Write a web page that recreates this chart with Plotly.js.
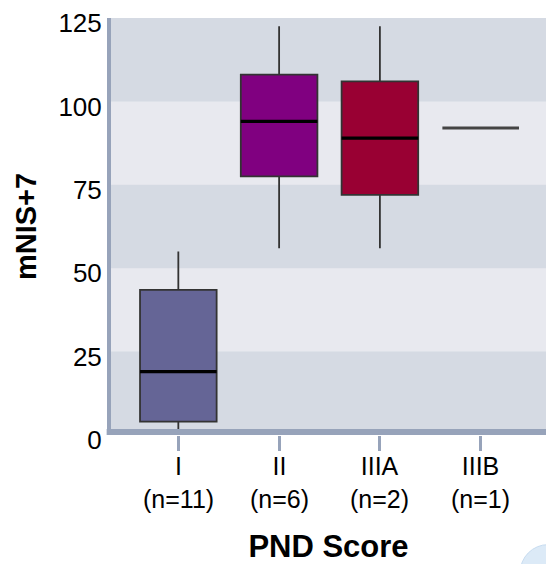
<!DOCTYPE html>
<html>
<head>
<meta charset="utf-8">
<script src="https://cdn.plot.ly/plotly-3.0.1.min.js"></script>
<style>html,body{margin:0;padding:0;background:#fff;}#chart{width:546px;height:564px;}</style>
</head>
<body>
<div id="chart"></div>
<script>
// Categories and labels
const categories = ['I', 'II', 'IIIA', 'IIIB'];
const sampleSizes = ['(n=11)', '(n=6)', '(n=2)', '(n=1)'];

// Box statistics (mNIS+7)
const lowerWhisker = [0, 56, 56, 92];
const q1Values = [4, 77.5, 72, 92];
const medianValues = [19, 94, 89, 92];
const q3Values = [43.5, 108, 106, 92];
const upperWhisker = [55, 122.5, 122.5, 92];
const boxColors = ['#656596', '#800080', '#990033', '#555555'];

const yTicks = [0, 25, 50, 75, 100, 125];

const traces = [];
categories.forEach((c, i) => {
  traces.push({
    type: 'box',
    x: [c],
    q1: [q1Values[i]],
    median: [medianValues[i]],
    q3: [q3Values[i]],
    lowerfence: [lowerWhisker[i]],
    upperfence: [upperWhisker[i]],
    fillcolor: boxColors[i],
    line: {color: i === 3 ? '#444444' : '#333333', width: i === 3 ? 3 : 1.8},
    whiskerwidth: 0,
    width: 0.76,
    boxpoints: false,
    hoverinfo: 'skip',
    showlegend: false
  });
});
// Thick black median lines
traces.push({
  type: 'box',
  x: categories.slice(0, 3),
  q1: medianValues.slice(0, 3),
  median: medianValues.slice(0, 3),
  q3: medianValues.slice(0, 3),
  lowerfence: medianValues.slice(0, 3),
  upperfence: medianValues.slice(0, 3),
  fillcolor: 'rgba(0,0,0,0)',
  line: {color: '#000000', width: 3.2},
  whiskerwidth: 0,
  width: 0.76,
  boxpoints: false,
  hoverinfo: 'skip',
  showlegend: false
});

// Alternating background bands
const shapes = [];
for (let k = 0; k < yTicks.length - 1; k++) {
  if (k % 2 === 1) {
    shapes.push({type: 'rect', xref: 'paper', yref: 'y', x0: 0, x1: 1, y0: yTicks[k], y1: yTicks[k + 1],
      fillcolor: '#e8e9ef', line: {width: 0}, layer: 'below'});
  }
}
// Bottom axis bar drawn just inside the plot edge
shapes.push({type: 'rect', xref: 'paper', yref: 'paper', ysizemode: 'pixel', yanchor: 0,
  x0: -0.01, x1: 1, y0: 0, y1: 6, fillcolor: '#97a3ba', line: {width: 0}, layer: 'above'});
// Decorative corner circle
shapes.push({type: 'circle', xref: 'paper', yref: 'paper', xsizemode: 'pixel', ysizemode: 'pixel',
  xanchor: 1.005, yanchor: -0.33, x0: -28, x1: 28, y0: -28, y1: 28,
  fillcolor: '#dceaf7', line: {color: '#c7dcf0', width: 1}, layer: 'above'});

// Two-line category labels
const annotations = categories.map((c, i) => ({
  x: c, xref: 'x', y: 0, yref: 'paper', yanchor: 'middle', yshift: -47,
  text: c + '<br>' + sampleSizes[i], showarrow: false,
  font: {size: 25, color: '#000000'}
}));

const layout = {
  width: 546,
  height: 564,
  margin: {l: 111, r: 0, t: 18, b: 129},
  paper_bgcolor: '#ffffff',
  plot_bgcolor: '#d5dae3',
  boxmode: 'overlay',
  font: {family: 'Liberation Sans, Arial, sans-serif', color: '#000000'},
  xaxis: {
    type: 'category',
    categoryorder: 'array',
    categoryarray: categories,
    range: [-0.668, 3.648],
    tickmode: 'array',
    tickvals: categories,
    showticklabels: false,
    ticks: 'outside',
    ticklen: 15,
    tickwidth: 3,
    tickcolor: '#97a3ba',
    showgrid: false,
    zeroline: false,
    showline: false,
    automargin: false,
    title: {text: '<b>PND Score</b>', font: {size: 31, color: '#000000'}, standoff: 87}
  },
  yaxis: {
    range: [0, 125],
    tickmode: 'array',
    tickvals: yTicks,
    ticks: '',
    tickfont: {size: 26, color: '#000000'},
    ticklabelshift: 5,
    showgrid: false,
    zeroline: false,
    showline: true,
    linecolor: '#97a3ba',
    linewidth: 4,
    automargin: false,
    title: {text: '<b>mNIS+7</b>', font: {size: 29, color: '#000000'}, standoff: 14}
  },
  annotations: annotations,
  shapes: shapes
};

Plotly.newPlot('chart', traces, layout, {displayModeBar: false, staticPlot: true});
</script>
</body>
</html>
